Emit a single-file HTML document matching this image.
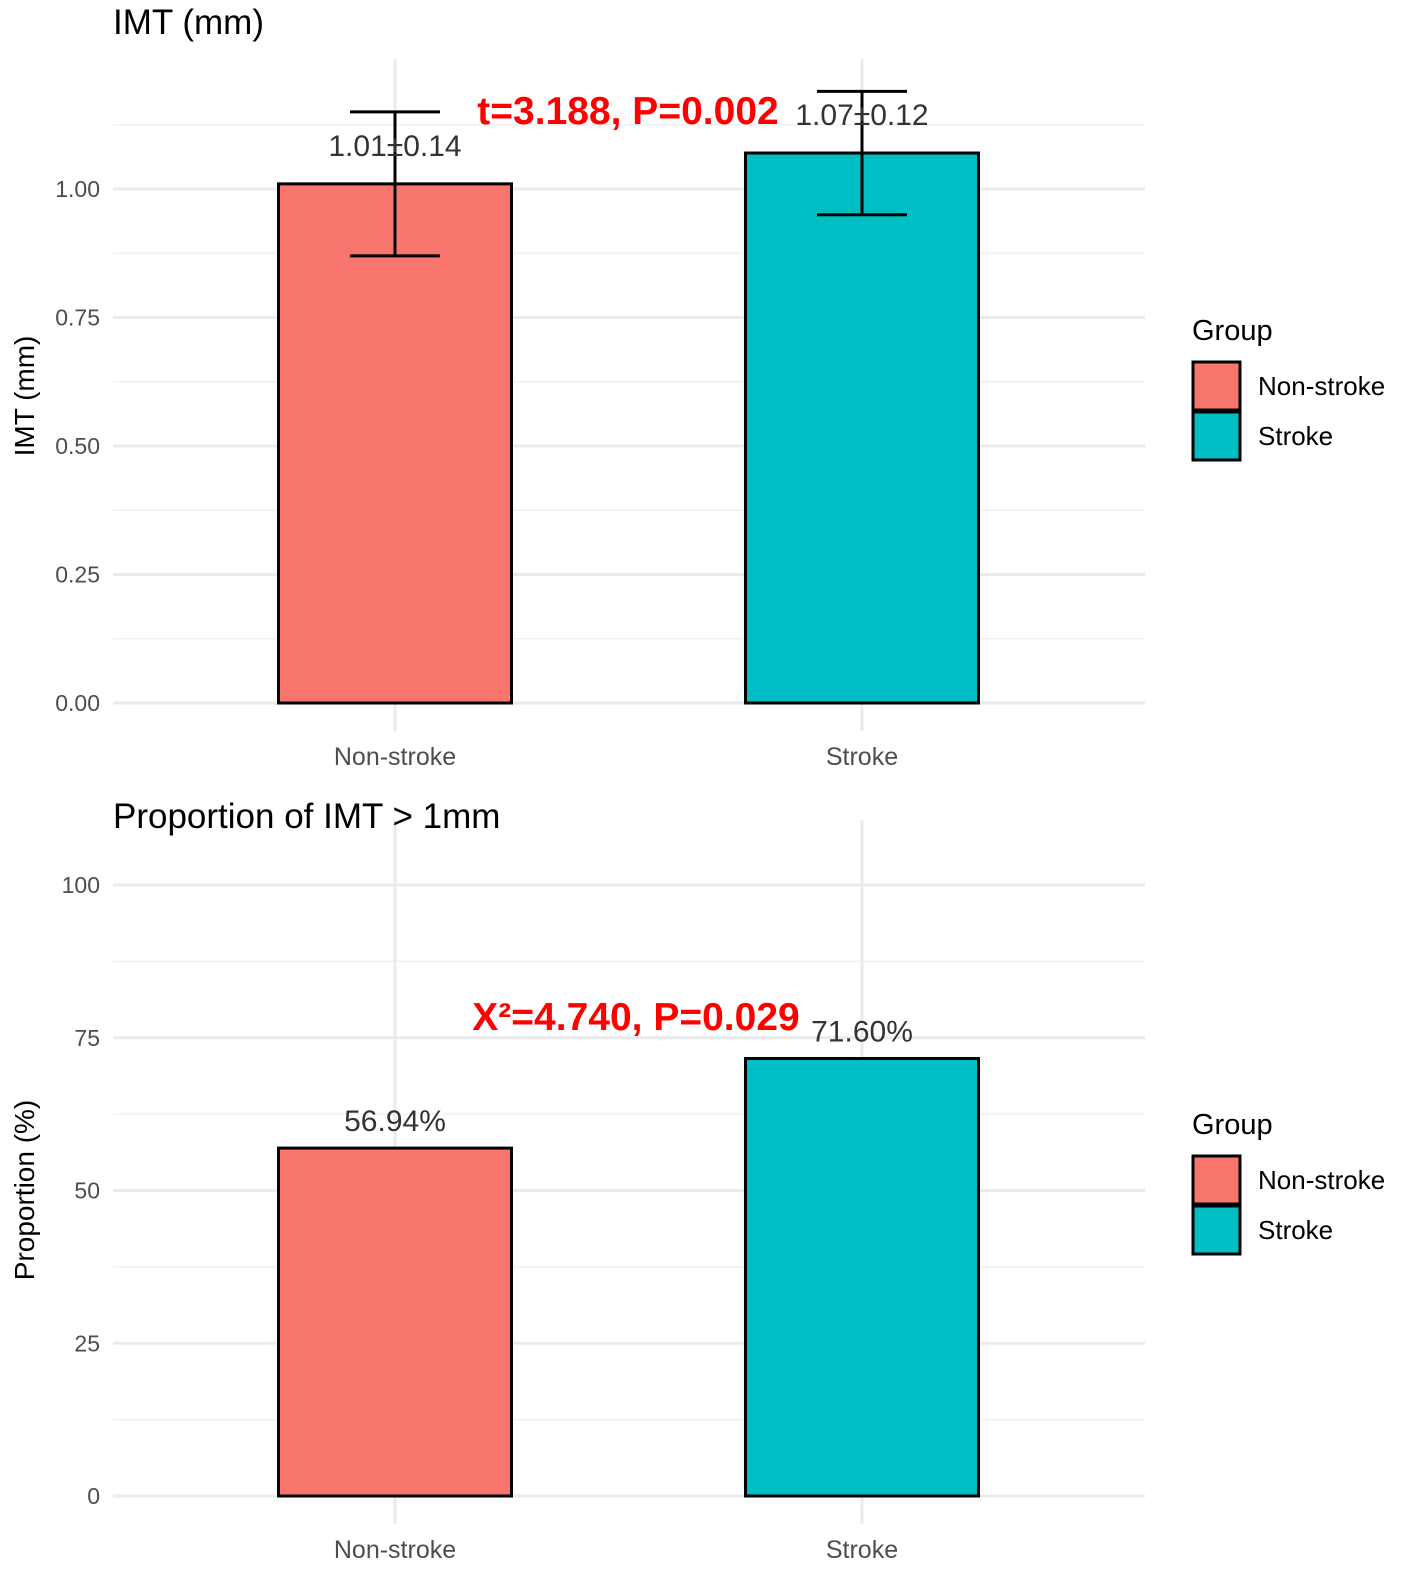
<!DOCTYPE html>
<html><head><meta charset="utf-8"><style>
body{margin:0;background:#fff}
svg{display:block;font-family:"Liberation Sans",sans-serif}
</style></head><body>
<svg id="c" width="1417" height="1586" viewBox="0 0 1417 1586"></svg>
<script>
const categories=["Non-stroke","Stroke"];
const colors=["#F8766D","#00BFC4"];
const imtMeans=[1.01,1.07];
const imtSds=[0.14,0.12];
const imtLabels=["1.01±0.14","1.07±0.12"];
const imtTicks=[0,0.25,0.5,0.75,1.0];
const imtTickLabels=["0.00","0.25","0.50","0.75","1.00"];
const propValues=[56.94,71.60];
const propLabels=["56.94%","71.60%"];
const propTicks=[0,25,50,75,100];
const propTickLabels=["0","25","50","75","100"];

const svg=document.getElementById('c');
const NS="http://www.w3.org/2000/svg";
function el(tag,attrs,parent){const e=document.createElementNS(NS,tag);for(const k in attrs)e.setAttribute(k,attrs[k]);(parent||svg).appendChild(e);return e;}
function txt(s,attrs,parent){const e=el('text',attrs,parent);e.textContent=s;return e;}
const xPos=[395,862];
const barHalf=116.5;

function panel(o){
  const g=el('g',{});
  
  
  const y=v=>o.y0-(v-o.vmin)/(o.vmax-o.vmin)*(o.y0-o.y1);
  for(let i=0;i<o.ticks.length;i++){
    const m=o.ticks[i]+(o.ticks[1]-o.ticks[0])/2;
    if(y(m)>=o.top){const l=el('line',{x1:113,x2:1145,y1:y(m),y2:y(m),stroke:'#f0f0f0','stroke-width':1.5},g);}
  }
  o.ticks.forEach((t,i)=>{
    const l=el('line',{x1:113,x2:1145,y1:y(t),y2:y(t),stroke:'#ebebeb','stroke-width':3},g);
    
    
    const tl=txt(o.tickLabels[i],{x:100,y:y(t)+8,'text-anchor':'end','font-size':23,fill:'#4d4d4d'},g);
    
    
  });
  xPos.forEach((x,i)=>{
    const l=el('line',{x1:x,x2:x,y1:o.top-65,y2:o.y0+28,stroke:'#ebebeb','stroke-width':3},g);
    
    
    const xl=txt(categories[i],{x:x,y:o.y0+62,'text-anchor':'middle','font-size':25,fill:'#4d4d4d'},g);
    
    
  });
  o.values.forEach((v,i)=>{
    const r=el('rect',{x:xPos[i]-barHalf,y:y(v),width:barHalf*2,height:o.y0-y(v),fill:colors[i],stroke:'#000','stroke-width':3},g);
    
    
    if(o.sds){
      const hi=y(v+o.sds[i]),lo=y(v-o.sds[i]);
      const e=el('path',{d:`M${xPos[i]-45},${hi}H${xPos[i]+45}M${xPos[i]},${hi}V${lo}M${xPos[i]-45},${lo}H${xPos[i]+45}`,stroke:'#000','stroke-width':3,fill:'none'},g);
      
      
    }
    const vl=txt(o.labels[i],{x:xPos[i],y:y(v)-o.labOff,'text-anchor':'middle','font-size':30,fill:'#333'},g);
    
    
  });
  const t=txt(o.title,{x:113,y:o.titleY,'font-size':35,fill:'#000'},g);
  
  
  const yt=txt(o.ytitle,{x:0,y:0,'font-size':28,fill:'#000','text-anchor':'middle',transform:`translate(34,${o.ytY}) rotate(-90)`},g);
  
  
  const a=txt(o.annot,{x:o.annX,y:o.annY,'font-size':39,'font-weight':'bold',fill:'#ff0000','text-anchor':'middle'},g);
  
  
  const lg=txt('Group',{x:1192,y:o.legY+10,'font-size':29,fill:'#000'},g);
  
  
  categories.forEach((c,i)=>{
    const k=el('rect',{x:1193,y:o.legY+32+i*50,width:47,height:48,fill:colors[i],stroke:'#000','stroke-width':3},g);
    
    
    const lt=txt(c,{x:1258,y:o.legY+65+i*50,'font-size':26,fill:'#000'},g);
    
    
  });
}
panel({name:'imt-panel',y0:703,y1:189,vmin:0,vmax:1,top:124,ticks:imtTicks,tickLabels:imtTickLabels,values:imtMeans,sds:imtSds,labels:imtLabels,labOff:28,title:'IMT (mm)',titleY:34,ytitle:'IMT (mm)',ytY:396,annot:'t=3.188, P=0.002',annX:628,annY:124,legY:330});
panel({name:'proportion-panel',y0:1496,y1:885,vmin:0,vmax:100,top:885,ticks:propTicks,tickLabels:propTickLabels,values:propValues,labels:propLabels,labOff:17,title:'Proportion of IMT > 1mm',titleY:828,ytitle:'Proportion (%)',ytY:1190,annot:'X²=4.740, P=0.029',annX:636,annY:1030,legY:1124});
</script>
</body></html>
